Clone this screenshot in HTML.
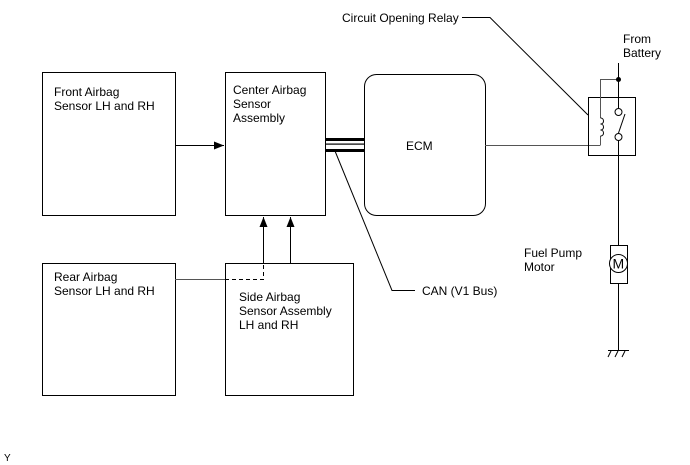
<!DOCTYPE html>
<html><head><meta charset="utf-8"><style>
html,body{margin:0;padding:0;background:#fff;}
svg{display:block;font-family:"Liberation Sans",sans-serif;font-size:12px;}
</style></head><body>
<svg width="690" height="465" viewBox="0 0 690 465" xmlns="http://www.w3.org/2000/svg">
<defs><marker id="ar" markerWidth="10" markerHeight="8" refX="10" refY="4" orient="auto" markerUnits="userSpaceOnUse"><path d="M0,0 L10,4 L0,8 Z" fill="#000"/></marker></defs>
<g fill="none" stroke="#000" stroke-width="1">
<rect x="42.5" y="72.5" width="133" height="143"/>
<rect x="225.5" y="72.5" width="100" height="143"/>
<rect x="364.5" y="74.5" width="121" height="141" rx="12"/>
<rect x="42.5" y="263.5" width="133" height="132"/>
<rect x="225.5" y="263.5" width="128" height="132"/>
<line x1="175" y1="145.5" x2="224" y2="145.5" marker-end="url(#ar)"/>
<line x1="263.5" y1="263" x2="263.5" y2="217" marker-end="url(#ar)"/>
<line x1="290.5" y1="263" x2="290.5" y2="217" marker-end="url(#ar)"/>
<line x1="175" y1="279.5" x2="225" y2="279.5" stroke="#555"/>
<path d="M225,279.5 H263.5 V263" stroke-dasharray="4,3"/>
<path d="M335,151 L392,290.5 H415"/>
<line x1="485" y1="145.5" x2="600" y2="145.5" stroke="#555"/>
<path d="M462,17.5 H490 L588,115"/>
<rect x="588.5" y="97.5" width="47" height="58"/>
<line x1="618.5" y1="63" x2="618.5" y2="108"/>
<line x1="618.5" y1="141" x2="618.5" y2="245"/>
<line x1="618.5" y1="283" x2="618.5" y2="350"/>
<circle cx="618.5" cy="112" r="3.5" fill="#fff"/>
<circle cx="618.5" cy="137" r="3.5" fill="#fff"/>
<line x1="618.5" y1="133" x2="625" y2="114"/>
<path d="M618.5,79.5 H600.5 V118 M600.5,136 V145.5" stroke="#555"/>
<path d="M600.5,118 c4,0 4,6 0,6 c4,0 4,6 0,6 c4,0 4,6 0,6" />
<rect x="610.5" y="245.5" width="17" height="38"/>
<circle cx="618.5" cy="263.5" r="9" fill="#fff"/>
<line x1="608" y1="350.5" x2="629" y2="350.5"/>
<path d="M611,351 l-3,6 M618,351 l-3,6 M625,351 l-3,6"/>
</g>
<rect x="325" y="138" width="40" height="3" fill="#000"/>
<rect x="325" y="143.5" width="40" height="1.2" fill="#000"/>
<rect x="325" y="149" width="40" height="3" fill="#000"/>
<circle cx="618.5" cy="79.5" r="2.5" fill="#000"/>
<text x="612.5" y="268.5" font-size="14">M</text>
<text x="54" y="96">Front Airbag</text><text x="54" y="110">Sensor LH and RH</text>
<text x="233" y="94">Center Airbag</text><text x="233" y="108">Sensor</text><text x="233" y="122">Assembly</text>
<text x="406" y="150">ECM</text>
<text x="54" y="281">Rear Airbag</text><text x="54" y="295">Sensor LH and RH</text>
<text x="239" y="301">Side Airbag</text><text x="239" y="315">Sensor Assembly</text><text x="239" y="329">LH and RH</text>
<text x="422" y="295">CAN (V1 Bus)</text>
<text x="342" y="22">Circuit Opening Relay</text>
<text x="623" y="43">From</text><text x="623" y="57">Battery</text>
<text x="524" y="257">Fuel Pump</text><text x="524" y="271">Motor</text>
<text x="4" y="461" font-size="10">Y</text>
</svg>
</body></html>
